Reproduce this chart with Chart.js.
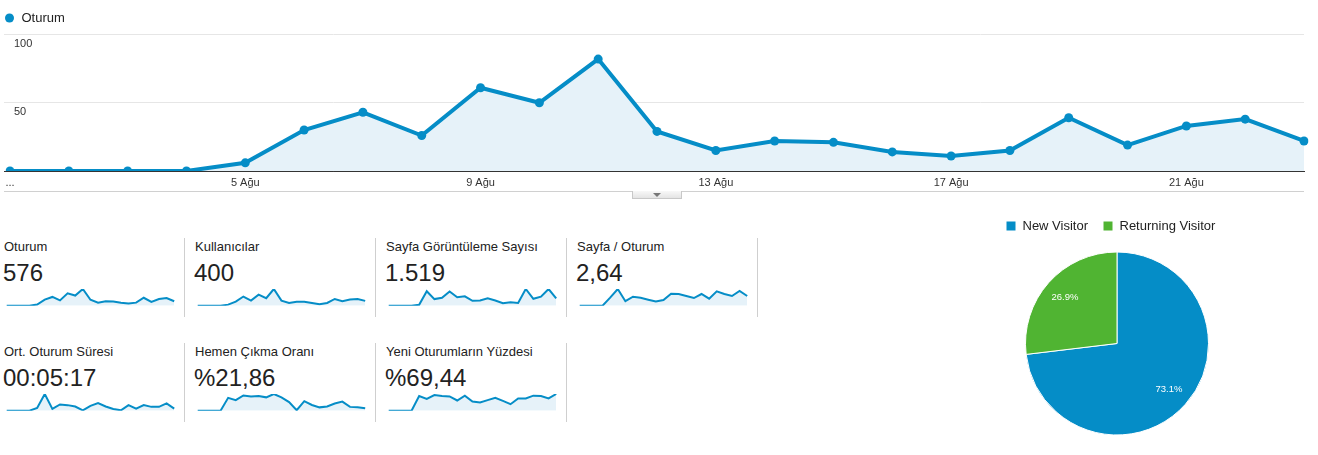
<!DOCTYPE html>
<html>
<head>
<meta charset="utf-8">
<script src="https://cdn.jsdelivr.net/npm/chart.js@4.4.0/dist/chart.umd.min.js"></script>
<style>
  html, body { margin: 0; padding: 0; background: #fff; }
  body { position: relative; width: 1318px; height: 455px; overflow: hidden; font-family: "Liberation Sans", Arial, sans-serif; color: #222; }
  canvas { position: absolute; }
  .hline { position: absolute; left: 4px; top: 191px; width: 1300px; height: 1px; background: #d0d0d0; }
  .tab { position: absolute; left: 632px; top: 191px; width: 48px; height: 7px; border: 1px solid #c8c8c8; border-top: none; background: linear-gradient(#f8f8f8, #e4e4e4); }
  .tab .tri { position: absolute; left: 20px; top: 2px; width: 0; height: 0; border-left: 4px solid transparent; border-right: 4px solid transparent; border-top: 4px solid #777; }
  .title { position: absolute; font-size: 13px; line-height: 15px; white-space: nowrap; color: #222; }
  .value { position: absolute; font-size: 24px; line-height: 28px; white-space: nowrap; color: #222; }
  .sep { position: absolute; width: 1px; height: 79px; background: #cfcfcf; }
</style>
</head>
<body>
<div class="hline"></div>
<div class="tab"><div class="tri"></div></div>
<canvas id="main" width="1318" height="196" style="left:0;top:0"></canvas>
<div id="metrics"></div>
<canvas id="pie" width="265" height="245" style="left:985px;top:200px"></canvas>

<script>
// ---- data ----
const days = ['1 Ağu','2 Ağu','3 Ağu','4 Ağu','5 Ağu','6 Ağu','7 Ağu','8 Ağu','9 Ağu','10 Ağu','11 Ağu','12 Ağu',
              '13 Ağu','14 Ağu','15 Ağu','16 Ağu','17 Ağu','18 Ağu','19 Ağu','20 Ağu','21 Ağu','22 Ağu','23 Ağu'];
const xTickLabels = ['...','','','','5 Ağu','','','','9 Ağu','','','','13 Ağu','','','','17 Ağu','','','','21 Ağu','',''];
const yTickValues = [50, 100];

const oturum = [0,0,0,0,6,30,43,26,61,50,82,29,15,22,21,14,11,15,39,19,33,38,22];
const kullanicilar = [0,0,0,0,4,15,34,19,41,28,62,19,10,15,15,10,5,10,25,17,23,25,18];
const sayfaGoruntuleme = [0,0,0,0,10,146,67,81,144,85,95,49,53,74,53,25,35,28,169,70,92,169,74];
const sayfaOturum = [0,0,0,0,2.4,5.0,1.35,2.7,2.4,1.8,1.25,1.7,3.6,3.5,2.9,2.3,3.5,2.1,4.3,3.5,2.9,4.4,2.9];
const oturumSuresi = [0,0,0,0,200,1200,125,450,400,300,25,350,550,300,125,25,400,150,400,275,275,525,150];
const hemenCikma = [0,0,0,0,27,22,32,30,31,28,35,28,18,1,20,12,7,9,15,19,8,7,5];
const yeniOturum = [0,0,0,0,79,64,84,79,77,55,81,49,44,57,70,53,35,66,66,81,79,66,90];

const metricTitles = ['Oturum','Kullanıcılar','Sayfa Görüntüleme Sayısı','Sayfa / Oturum',
                      'Ort. Oturum Süresi','Hemen Çıkma Oranı','Yeni Oturumların Yüzdesi'];
const metricValues = ['576','400','1.519','2,64','00:05:17','%21,86','%69,44'];
const metricSeries = [oturum, kullanicilar, sayfaGoruntuleme, sayfaOturum, oturumSuresi, hemenCikma, yeniOturum];

const pieLabels = ['New Visitor','Returning Visitor'];
const pieValues = [73.1, 26.9];

// ---- styles ----
const BLUE = '#058dc7';
const FILL = '#e6f2f9';
const GREEN = '#50b432';
const FONT = '"Liberation Sans", Arial, sans-serif';
Chart.defaults.font.family = FONT;

// ---- main chart ----
new Chart(document.getElementById('main'), {
  type: 'line',
  data: {
    labels: days,
    datasets: [{
      label: 'Oturum', data: oturum,
      borderColor: BLUE, backgroundColor: FILL, fill: 'origin',
      borderWidth: 4, pointRadius: 4.5, pointBackgroundColor: BLUE,
      pointBorderColor: BLUE, pointBorderWidth: 0, tension: 0
    }]
  },
  options: {
    responsive: false, animation: false,
    layout: { padding: { left: -4, right: 14, top: 3.5, bottom: 1.8 } },
    plugins: {
      legend: {
        display: true, position: 'top', align: 'start',
        labels: {
          usePointStyle: true, pointStyle: 'circle', boxWidth: 11, boxHeight: 6.4,
          padding: 8, color: '#222', font: { size: 13 },
          generateLabels: (chart) => {
            const items = Chart.defaults.plugins.legend.labels.generateLabels(chart);
            items.forEach(it => { it.lineWidth = 0; it.fillStyle = BLUE; it.strokeStyle = BLUE; });
            return items;
          }
        }
      },
      tooltip: { enabled: false }
    },
    scales: {
      x: {
        grid: { display: false, drawTicks: false },
        border: { display: true, color: '#333', width: 1 },
        ticks: { autoSkip: false, maxRotation: 0, padding: 5, color: '#333', font: { size: 11 },
                 callback: (v, i) => xTickLabels[i] }
      },
      y: {
        min: 0, max: 100,
        border: { display: false },
        grid: { color: c => c.tick.value === 0 ? '#333' : '#e6e6e6', tickLength: 6, drawTicks: true },
        afterBuildTicks: s => { s.ticks = [0].concat(yTickValues).map(v => ({ value: v })); },
        ticks: { mirror: true, padding: 4, labelOffset: 9, color: '#333', font: { size: 11 },
                 callback: v => (v === 0 ? '' : String(v)) }
      }
    }
  }
});

// ---- metric cells ----
const metrics = document.getElementById('metrics');
metricTitles.forEach((t, i) => {
  const row = i < 4 ? 0 : 1;
  const col = i < 4 ? i : i - 4;
  const left = 4 + 191 * col;
  const dy = row * 104.5;
  const title = document.createElement('div');
  title.className = 'title'; title.textContent = t;
  title.style.left = left + 'px'; title.style.top = (239 + dy) + 'px';
  metrics.appendChild(title);
  const val = document.createElement('div');
  val.className = 'value'; val.textContent = metricValues[i];
  val.style.left = (left - 1) + 'px'; val.style.top = (259 + dy) + 'px';
  metrics.appendChild(val);
  const sep = document.createElement('div');
  sep.className = 'sep';
  sep.style.left = (184 + 191 * col) + 'px'; sep.style.top = (238 + dy) + 'px';
  metrics.appendChild(sep);
  const cv = document.createElement('canvas');
  cv.width = 172; cv.height = 23;
  cv.style.left = (left + 1) + 'px'; cv.style.top = (285 + dy) + 'px';
  metrics.appendChild(cv);
  const data = metricSeries[i];
  new Chart(cv, {
    type: 'line',
    data: { labels: days, datasets: [{ data: data, borderColor: BLUE, backgroundColor: FILL, fill: 'origin',
            borderWidth: 2, pointRadius: 0, tension: 0 }] },
    options: {
      responsive: false, animation: false,
      layout: { padding: { left: 1.7, right: 2.8, top: 4, bottom: 2.3 } },
      plugins: { legend: { display: false }, tooltip: { enabled: false } },
      scales: { x: { display: false }, y: { display: false, min: 0, max: Math.max(...data) } }
    }
  });
});

// ---- pie ----
const pieLabelPlugin = {
  id: 'pieLabels',
  afterDatasetsDraw(chart) {
    const ctx = chart.ctx;
    const meta = chart.getDatasetMeta(0);
    meta.data.forEach((arc, i) => {
      const p = arc.getProps(['x', 'y', 'startAngle', 'endAngle', 'outerRadius'], true);
      const mid = (p.startAngle + p.endAngle) / 2;
      const r = p.outerRadius * 0.76;
      ctx.save();
      ctx.fillStyle = '#fff';
      ctx.font = '9.5px ' + FONT;
      ctx.textAlign = 'center';
      ctx.textBaseline = 'middle';
      ctx.fillText(pieValues[i].toFixed(1) + '%', p.x + Math.cos(mid) * r, p.y + Math.sin(mid) * r);
      ctx.restore();
    });
  }
};

new Chart(document.getElementById('pie'), {
  type: 'pie',
  data: { labels: pieLabels, datasets: [{ data: pieValues, backgroundColor: [BLUE, GREEN],
          borderColor: '#fff', borderWidth: 1, radius: 91.5 }] },
  options: {
    responsive: false, animation: false,
    layout: { padding: { left: 6, right: 7, top: 4.5, bottom: 0.5 } },
    plugins: {
      legend: { position: 'top', align: 'start',
        labels: { boxWidth: 10, boxHeight: 10, padding: 15, color: '#222', font: { size: 13 } } },
      tooltip: { enabled: false }
    }
  },
  plugins: [pieLabelPlugin]
});
</script>
</body>
</html>
